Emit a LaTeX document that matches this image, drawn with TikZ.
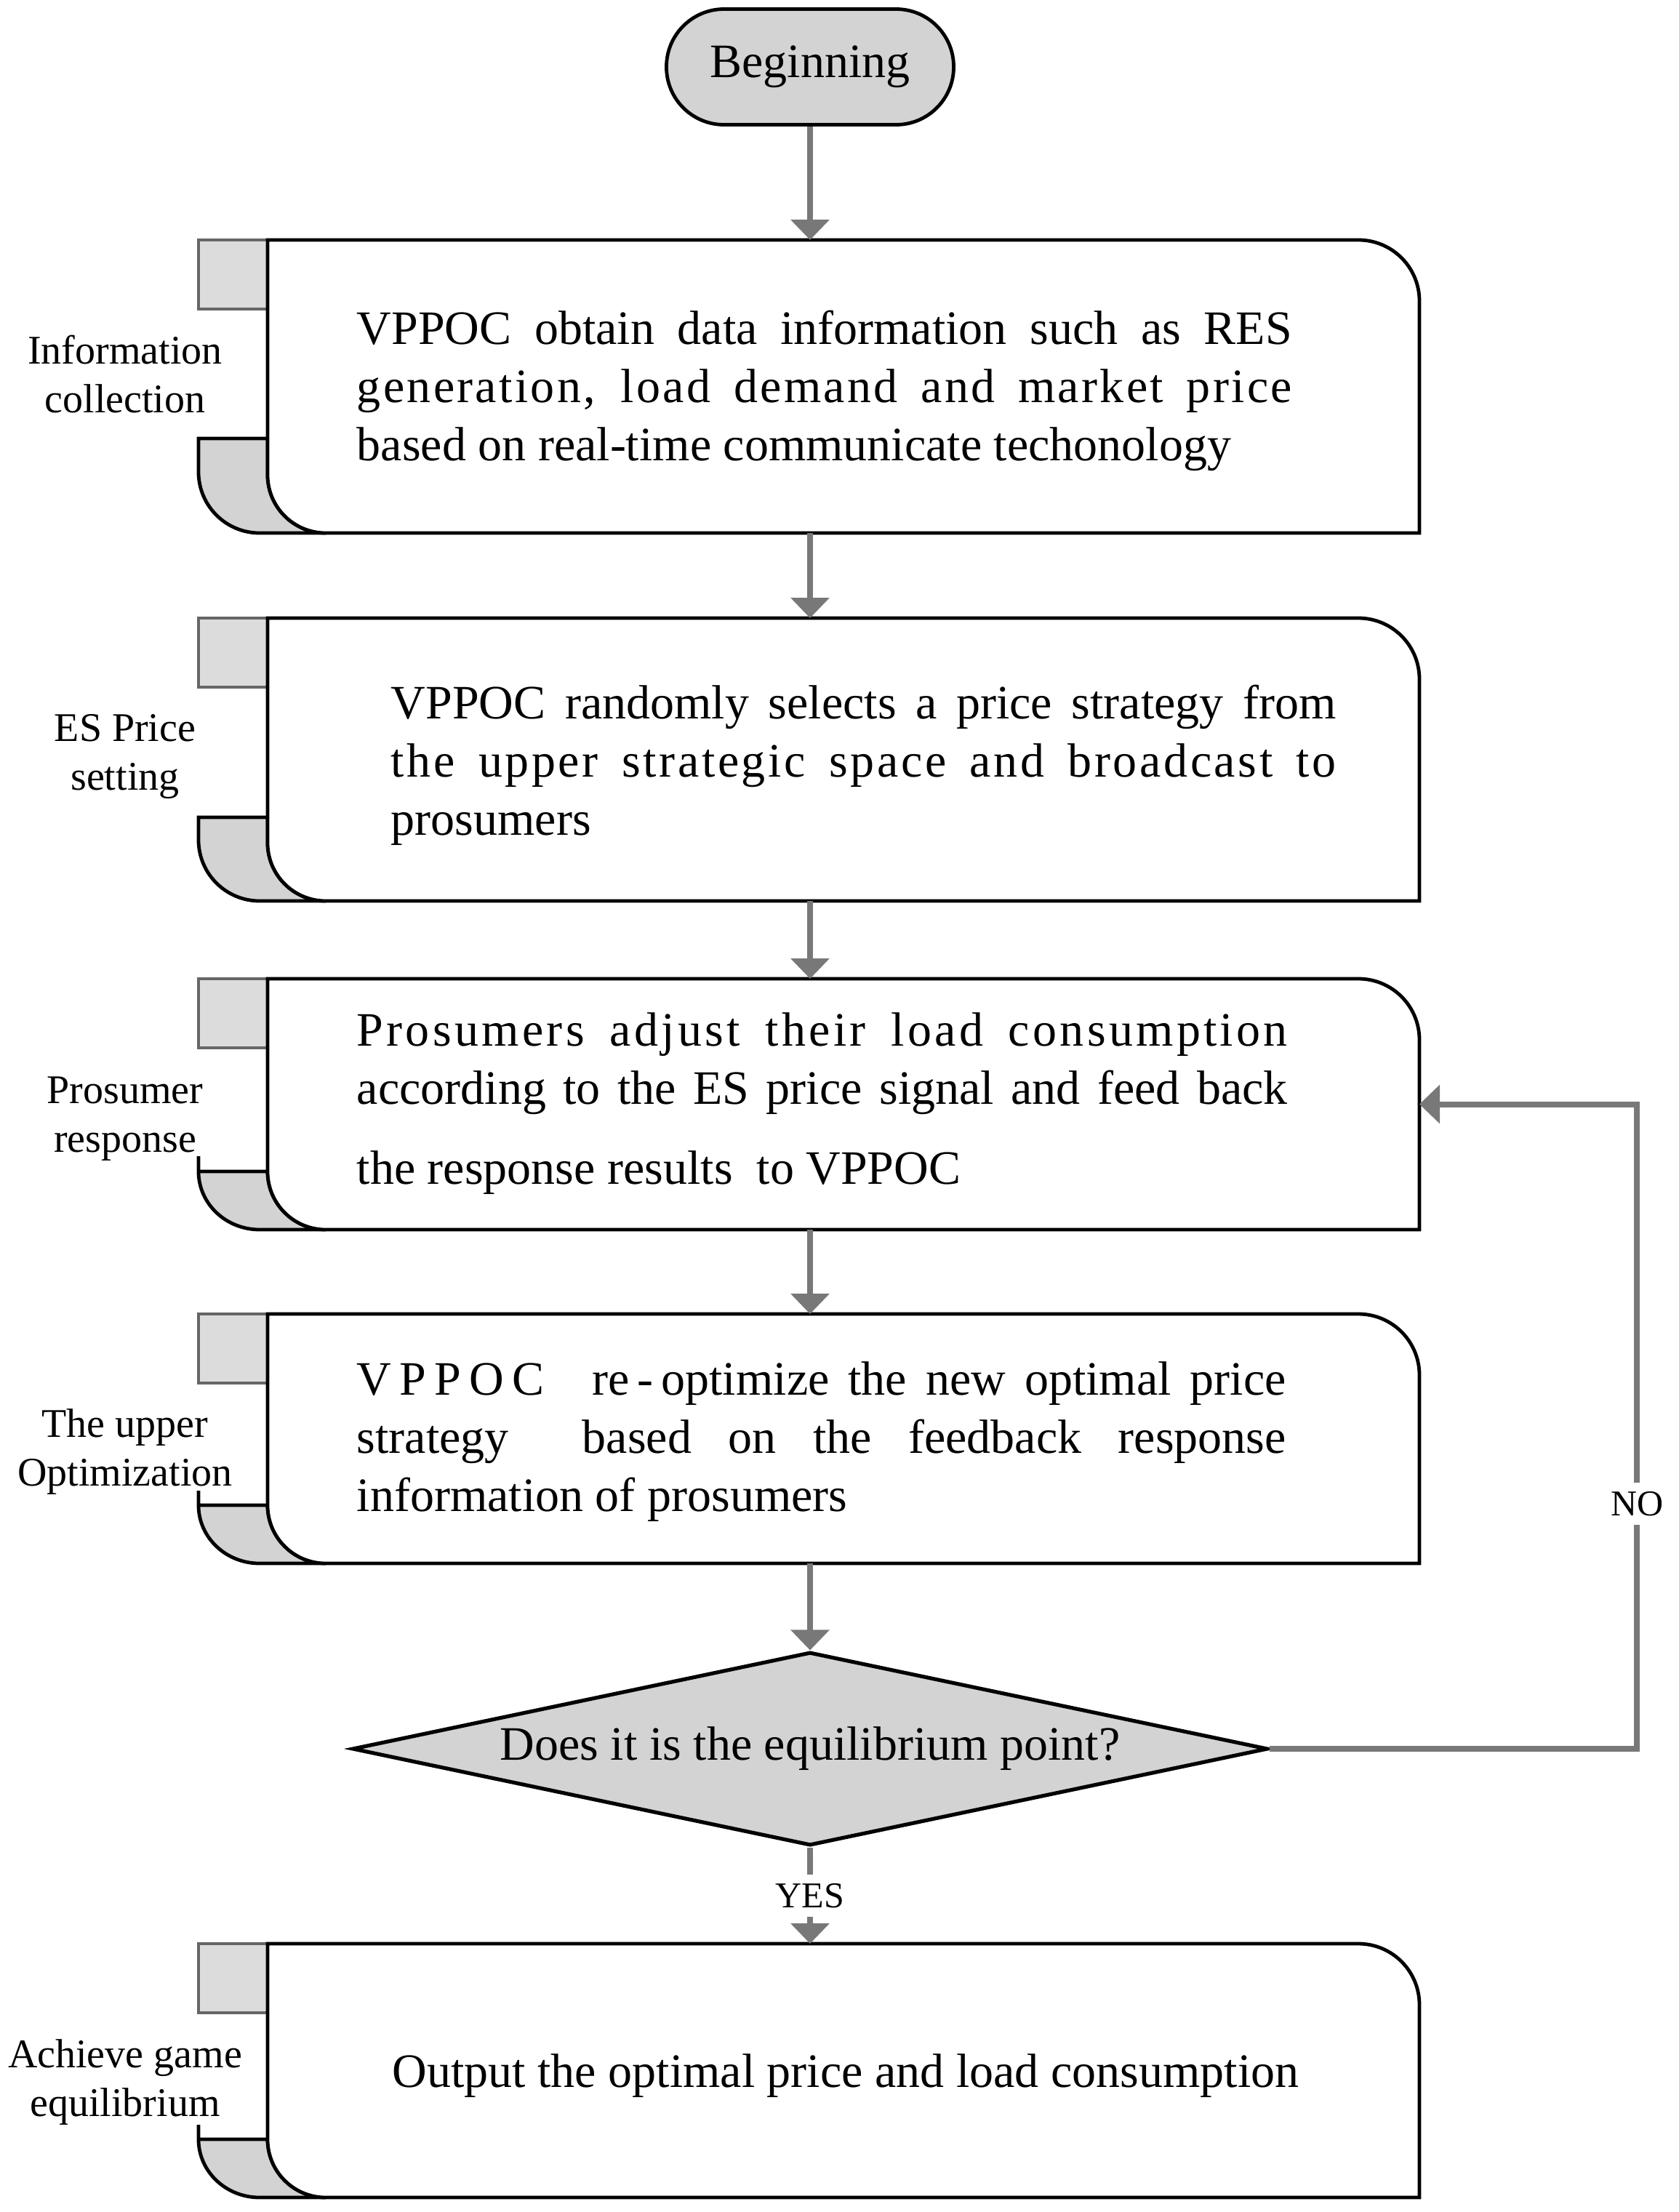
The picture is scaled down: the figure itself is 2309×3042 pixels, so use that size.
\documentclass[tikz,border=0pt]{standalone}
\usepackage{fontspec}
\setmainfont{Liberation Serif}
\usetikzlibrary{shapes.geometric, arrows.meta, calc}
\definecolor{flowgray}{HTML}{787878}
\definecolor{tabgray}{HTML}{666666}
\definecolor{tabface}{HTML}{DCDCDC}
\definecolor{curlface}{HTML}{D3D3D3}
% frame of one stage: name, top, bottom, curl top, tick top
\newcommand{\stageframe}[5]{%
    \filldraw [tabbox] (273,#2) rectangle (368,{#2+95});
    \filldraw [curlbox] (273,#5) -- (273,#4) -- (368,#4) -- (368,{#3-80})
        arc [start angle=180, end angle=270, radius=20pt] -- (357,#3)
        arc [start angle=270, end angle=180, x radius=21pt, y radius={min(21,(#3-#4)/4)*1pt}] -- cycle;
    \node [stage, minimum height={(#3-#2)*0.25pt}] (#1) at (1160,{(#2+#3)/2}) {};
    \draw [stageline] (#1.north west) -- ([xshift=-21pt]#1.north east)
        arc [start angle=90, end angle=0, radius=21pt] -- (#1.south east)
        -- ([xshift=20pt]#1.south west) arc [start angle=270, end angle=180, radius=20pt] -- cycle;
}
% letter spaced run of text
\newcommand{\spaced}[2]{{\addfontfeature{LetterSpace=#1}#2}}

\begin{document}
\begin{tikzpicture}[x=0.25pt, y=-0.25pt]
      \tikzset{stage/.style={rectangle, inner sep=0pt, outer sep=0pt, minimum width=396pt},
          stageline/.style={draw=black, fill=white, line width=1.2pt},
          tabbox/.style={draw=tabgray, fill=tabface, line width=1.1pt},
          curlbox/.style={draw=black, fill=curlface, line width=1.2pt},
          stagetext/.style={anchor=base west, inner sep=0pt, text width=#1, align=justify,
              font=\fontsize{16.5}{20}\selectfont},
          sidelabel/.style={anchor=base, inner sep=0pt, align=center,
              font=\fontsize{14}{16.75}\selectfont},
          terminal/.style={rectangle, rounded corners=19.8pt, draw=black, fill=curlface, line width=1.2pt,
              minimum width=98.75pt, minimum height=39.75pt, inner sep=0pt,
              font=\fontsize{16.5}{20}\selectfont},
          decision/.style={diamond, aspect=4.73, draw=black, fill=curlface, line width=1.3pt,
              minimum width=314.75pt, minimum height=66.5pt, inner sep=0pt,
              font=\fontsize{16.5}{20}\selectfont},
          flow/.style={draw=flowgray, line width=2pt, -{Triangle[length=7pt, width=13pt]}},
          tag/.style={fill=white, inner sep=3pt, font=\fontsize{12.5}{14}\selectfont}
      }
      \useasboundingbox (0,0) rectangle (2309,3042);

      \node [terminal] (Start) at (1114,92) {Beginning};

      \stageframe{S1}{330}{733}{603}{603}
      \stageframe{S2}{850}{1239}{1124}{1124}
      \stageframe{S3}{1346}{1691}{1611}{1590}
      \stageframe{S4}{1807}{2150}{2070}{2050}
      \stageframe{S5}{2673}{3022}{2942}{2922}

      \node [stagetext=321.5pt] (T1) at (490,473) {VPPOC obtain data information such as RES\linebreak
          \spaced{5}{generation, load demand and market price}\linebreak based on real-time communicate techonology};
      \node [stagetext=325pt] (T2) at (537,988) {VPPOC randomly selects a price strategy from\linebreak
          \spaced{5.5}{the upper strategic space and broadcast to}\linebreak prosumers};
      \node [stagetext=320pt] (T3) at (490,1438) {\spaced{6.5}{Prosumers adjust their load consumption}\linebreak
          according to the ES price signal and feed back\vspace{7.5pt}\linebreak the response results\ \ to VPPOC};
      \node [stagetext=319.5pt] (T4) at (490,1918) {\spaced{17}{VPPOC}\quad re\,-\,optimize the new optimal price\linebreak
          strategy\ \ based on the feedback response\linebreak information of prosumers};
      \node [anchor=base, inner sep=0pt, font=\fontsize{16.5}{20}\selectfont] (T5) at (1163,2870)
          {Output the optimal price and load consumption};

      \node [sidelabel] (L1) at (172,567) {Information\\collection};
      \node [sidelabel] (L2) at (172,1086) {ES Price\\setting};
      \node [sidelabel] (L3) at (172,1584) {Prosumer\\response};
      \node [sidelabel] (L4) at (172,2043) {The upper\\Optimization};
      \node [sidelabel] (L5) at (172,2910) {Achieve game\\equilibrium};

      \node [decision] (Dec) at (1114,2405) {Does it is the equilibrium point?};

      \draw [flow] (Start) -- (Start |- S1.north);
      \draw [flow] (S1.south -| Start) -- (S2.north -| Start);
      \draw [flow] (S2.south -| Start) -- (S3.north -| Start);
      \draw [flow] (S3.south -| Start) -- (S4.north -| Start);
      \draw [flow] (S4.south -| Start) -- (Dec);
      \draw [flow] (Dec) -- node [tag] {YES} (S5.north -| Dec);
      \draw [flow] (Dec.east) -- ++(505,0) |- node [tag, pos=0.19] {NO} (S3.east);
\end{tikzpicture}
\end{document}
